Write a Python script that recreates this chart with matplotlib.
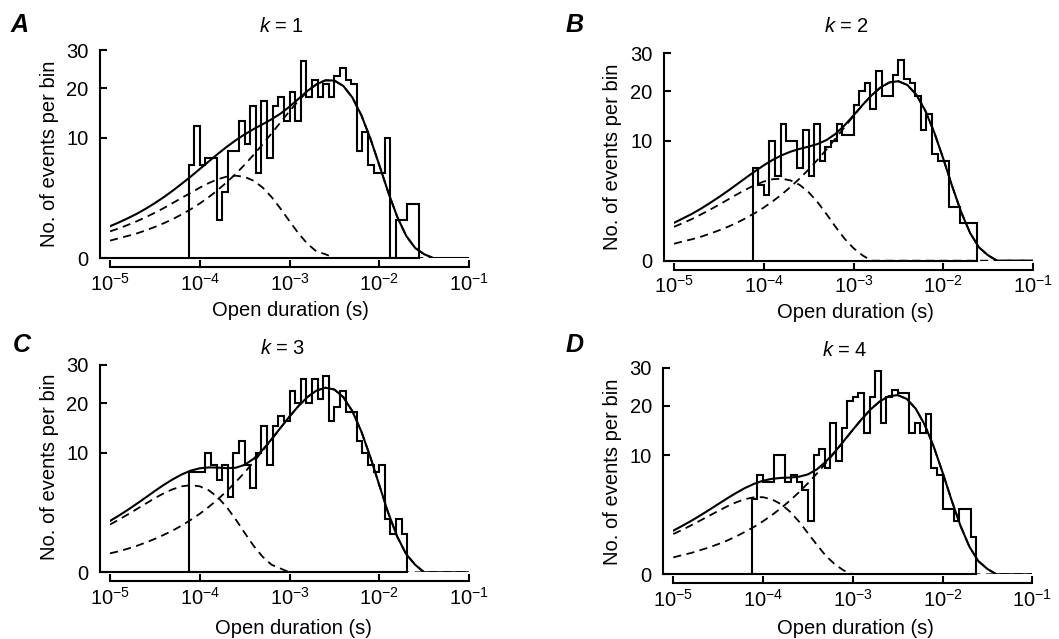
import numpy as np
import matplotlib
matplotlib.use("Agg")
import matplotlib.pyplot as plt

plt.rcParams['font.family'] = ['Liberation Sans', 'DejaVu Sans']
plt.rcParams['mathtext.fontset'] = 'custom'
plt.rcParams['mathtext.rm'] = 'Liberation Sans'
plt.rcParams['mathtext.it'] = 'Liberation Sans:italic'

# histogram bins: 16 per decade, first edge at 10^-4.125 s
first_edge = -4.125
per_decade = 16

counts_a = [6,12,6,7,7,1,3,8,8,13,9,16,5,17,7,16,18,13,19,13,27,18,22,18,21,18,23,25,22,21,8,11,6,5,5,10,0,1,1,2,2]
counts_b = [6,4,3,10,5,13,10,10,6,12,5,13,7,9,10,13,11,11,17,20,22,16,25,19,19,24,28,23,22,19,12,15,8,7,7,2,2,1,1,1]
counts_c = [7,7,7,10,8,6,8,4,10,12,8,5,10,15,8,15,17,16,23,20,26,20,26,21,27,16,19,23,18,18,12,10,8,7,8,2,1,2,1]
counts_d = [4,7,6,6,10,10,6,7,6,5,2,10,11,8,16,9,15,21,22,23,14,22,29,16,22,24,23,23,14,16,14,18,8,7,3,3,2,3,3,1]

# fitted curves, read every 0.1 decade from 10^-5 to 10^-1 s
log_t = np.round(np.arange(-5, -0.95, 0.1), 1)

fast_a = [0.49,0.61,0.76,0.94,1.16,1.42,1.73,2.10,2.51,2.95,3.43,3.89,4.30,4.59,4.70,4.56,4.14,3.45,2.58,1.69,
          0.94,0.42,0.14,0.03,0.01,0,0,0,0,0,0,0,0,0,0,0,0,0,0,0,0]
slow_a = [0.21,0.27,0.34,0.42,0.53,0.67,0.84,1.05,1.32,1.65,2.06,2.57,3.20,3.97,4.90,6.03,7.38,8.95,10.76,12.77,
          14.94,17.15,19.22,20.90,21.88,21.83,20.52,17.87,14.16,9.94,6.00,3.00,1.18,0.34,0.07,0.01,0,0,0,0,0]
fit_a = [0.70,0.88,1.10,1.36,1.69,2.09,2.57,3.15,3.83,4.60,5.49,6.46,7.50,8.56,9.60,10.59,11.52,12.40,13.34,14.46,
         15.88,17.57,19.36,20.93,21.89,21.83,20.52,17.87,14.16,9.94,6.00,3.00,1.18,0.34,0.07,0.01,0,0,0,0,0]

fast_b = [0.80,0.99,1.21,1.49,1.81,2.18,2.60,3.06,3.53,3.98,4.37,4.63,4.69,4.49,4.01,3.27,2.39,1.51,0.80,0.34,
          0.11,0.02,0,0,0,0,0,0,0,0,0,0,0,0,0,0,0,0,0,0,0]
slow_b = [0.20,0.26,0.32,0.40,0.51,0.64,0.80,1.00,1.26,1.58,1.97,2.46,3.06,3.81,4.71,5.80,7.11,8.65,10.42,12.43,
          14.61,16.87,19.05,20.92,22.17,22.47,21.53,19.22,15.70,11.47,7.27,3.86,1.64,0.53,0.12,0.02,0,0,0,0,0]
fit_b = [1.00,1.25,1.53,1.89,2.32,2.82,3.40,4.06,4.79,5.56,6.34,7.09,7.75,8.30,8.72,9.07,9.50,10.16,11.22,12.77,
         14.72,16.89,19.05,20.92,22.17,22.47,21.53,19.22,15.70,11.47,7.27,3.86,1.64,0.53,0.12,0.02,0,0,0,0,0]

fast_c = [1.59,1.94,2.34,2.80,3.30,3.84,4.36,4.82,5.16,5.30,5.16,4.70,3.94,2.97,1.96,1.09,0.49,0.17,0.04,0.01,
          0,0,0,0,0,0,0,0,0,0,0,0,0,0,0,0,0,0,0,0,0]
slow_c = [0.25,0.31,0.39,0.49,0.62,0.78,0.98,1.22,1.53,1.92,2.39,2.98,3.71,4.60,5.67,6.97,8.50,10.28,12.32,14.56,
          16.94,19.30,21.44,23.05,23.79,23.32,21.42,18.14,13.87,9.31,5.32,2.47,0.89,0.23,0.04,0,0,0,0,0,0]
fit_c = [1.84,2.25,2.73,3.29,3.92,4.62,5.34,6.04,6.69,7.22,7.55,7.68,7.65,7.57,7.63,8.06,8.99,10.45,12.36,14.57,
         16.94,19.30,21.44,23.05,23.79,23.32,21.42,18.14,13.87,9.31,5.32,2.47,0.89,0.23,0.04,0,0,0,0,0,0]

fast_d = [1.14,1.39,1.69,2.03,2.41,2.82,3.24,3.64,3.97,4.17,4.18,3.94,3.46,2.76,1.96,1.19,0.61,0.24,0.07,0.01,
          0,0,0,0,0,0,0,0,0,0,0,0,0,0,0,0,0,0,0,0,0]
slow_d = [0.20,0.26,0.32,0.41,0.51,0.64,0.80,1.01,1.27,1.58,1.98,2.47,3.08,3.82,4.73,5.83,7.14,8.68,10.47,12.48,
          14.67,16.94,19.14,21.01,22.27,22.57,21.63,19.31,15.77,11.52,7.31,3.88,1.65,0.53,0.12,0.02,0,0,0,0,0]
fit_d = [1.34,1.65,2.01,2.43,2.92,3.46,4.05,4.65,5.24,5.75,6.16,6.41,6.53,6.58,6.69,7.02,7.74,8.93,10.54,12.50,
         14.67,16.94,19.14,21.01,22.27,22.57,21.63,19.31,15.77,11.52,7.31,3.88,1.65,0.53,0.12,0.02,0,0,0,0,0]

titles = ['1', '2', '3', '4']
letters = ['A', 'B', 'C', 'D']

# layout in pixels: x of 10^-5, y of 0, y of 30, letter, title, xlabel, ylabel centres
panels = [(counts_a, fast_a, slow_a, fit_a, 110, 258, 50, (20, 25), (282, 27), (290, 310), (50, 154)),
          (counts_b, fast_b, slow_b, fit_b, 674, 260.7, 53.3, (575, 25), (847, 27), (855, 313), (612, 157)),
          (counts_c, fast_c, slow_c, fit_c, 110, 572.3, 365, (22, 345), (283, 348), (293, 628), (50, 467)),
          (counts_d, fast_d, slow_d, fit_d, 673.3, 574.3, 367.7, (575, 345), (845, 350), (855, 628), (612, 472))]

W, H = 1059, 639
fig = plt.figure(figsize=(W / 100, H / 100), dpi=100)
fs = 14.5
t = 10.0 ** log_t
for i, (counts, fast, slow, fit, x0, y0, y30, lpos, tpos, xlpos, ylpos) in enumerate(panels):
    ax = fig.add_axes([x0 / W, 1 - y0 / H, 359 / W, (y0 - y30) / H])
    ax.set_xscale('log')
    ax.set_yscale('function', functions=(lambda v: np.sqrt(np.clip(v, 0, None)), lambda v: v ** 2))
    ax.set_xlim(1e-5, 1e-1)
    ax.set_ylim(0, 30)
    edges = 10.0 ** (first_edge + np.arange(len(counts) + 1) / per_decade)
    ax.stairs(counts, edges, baseline=0, fill=False, color='black', lw=1.5)
    # zero line from the y axis to the end of the histogram
    ax.plot([10 ** -5.11, edges[-1]], [0, 0], color='black', lw=1.5, clip_on=False)
    ax.plot(t, fast, color='black', lw=1.3, ls=(0, (4.5, 3)))
    ax.plot(t, slow, color='black', lw=1.3, ls=(0, (4.5, 3)))
    ax.plot(t, fit, color='black', lw=1.5)
    for s in ['top', 'right']:
        ax.spines[s].set_visible(False)
    ax.spines['left'].set_position(('outward', 7.5))
    ax.spines['bottom'].set_position(('outward', 6.5))
    ax.spines['left'].set_bounds(0, 30)
    ax.spines['bottom'].set_bounds(1e-5, 1e-1)
    for s in ['left', 'bottom']:
        ax.spines[s].set_linewidth(1.5)
    ax.set_yticks([0, 10, 20, 30])
    ax.set_xticks([1e-5, 1e-4, 1e-3, 1e-2, 1e-1])
    ax.minorticks_off()
    ax.tick_params(direction='in', length=5, width=1.5, labelsize=fs)
    ax.tick_params(axis='y', pad=8)
    ax.tick_params(axis='x', pad=4)
    fig.text(lpos[0] / W, 1 - lpos[1] / H, letters[i], fontsize=18, fontweight='bold', fontstyle='italic', ha='center', va='center')
    fig.text(tpos[0] / W, 1 - tpos[1] / H, r'$\mathit{k}$ = ' + titles[i], fontsize=fs, ha='center', va='center')
    fig.text(xlpos[0] / W, 1 - xlpos[1] / H, 'Open duration (s)', fontsize=fs, ha='center', va='center')
    fig.text(ylpos[0] / W, 1 - ylpos[1] / H, 'No. of events per bin', fontsize=fs, ha='center', va='center', rotation=90)

fig.savefig('out.png', dpi=100)
